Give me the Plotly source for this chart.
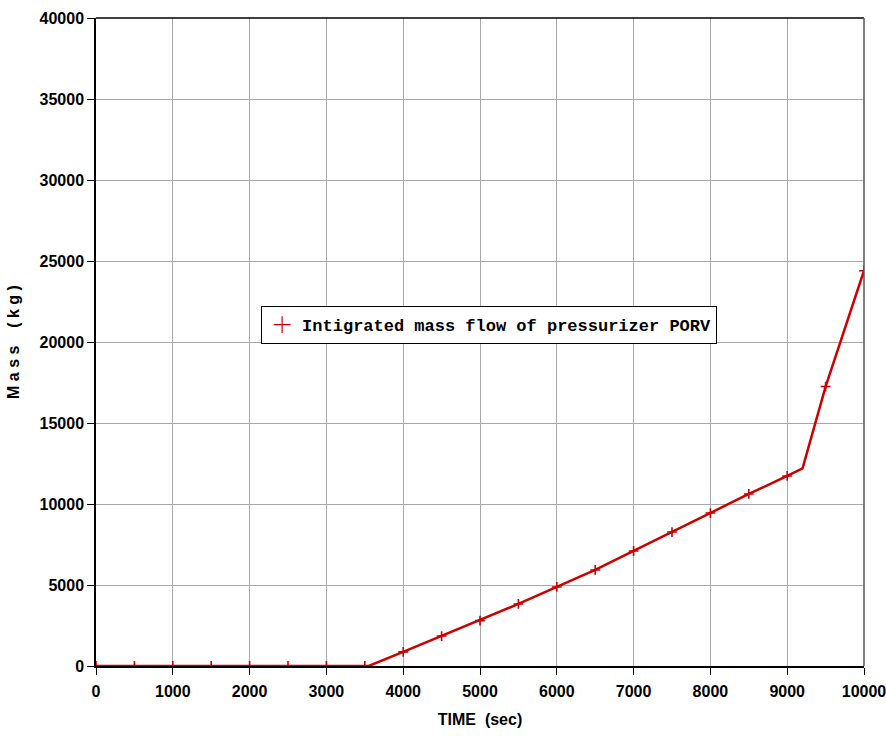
import plotly.graph_objects as go

# Integrated PORV mass flow (kg) versus time (s)
time_line = [0, 500, 1000, 1500, 2000, 2500, 3000, 3500, 3550, 4000, 4500, 5000,
             5500, 6000, 6500, 7000, 7500, 8000, 8500, 9000, 9200, 9500, 10000]
mass_line = [0, 0, 0, 0, 0, 0, 0, 0, 0, 870, 1850, 2800, 3830, 4880, 5930, 7100,
             8270, 9440, 10620, 11730, 12200, 17250, 24400]

# Marker samples every 500 s
time_mark = [0, 500, 1000, 1500, 2000, 2500, 3000, 3500, 4000, 4500, 5000, 5500,
             6000, 6500, 7000, 7500, 8000, 8500, 9000, 9500, 10000]
mass_mark = [0, 0, 0, 0, 0, 0, 0, 0, 870, 1850, 2800, 3830, 4880, 5930, 7100,
             8270, 9440, 10620, 11730, 17250, 24400]

x_ticks = list(range(0, 10001, 1000))
y_ticks = list(range(0, 40001, 5000))

RED = "#cc0000"
tick_font = dict(family="Liberation Sans Narrow, Arial Narrow, sans-serif",
                 size=16, color="black", weight="bold")

fig = go.Figure()
fig.add_trace(go.Scatter(x=time_line, y=mass_line, mode="lines",
                         line=dict(color=RED, width=2.5), showlegend=False,
                         hoverinfo="skip"))
fig.add_trace(go.Scatter(x=time_mark, y=mass_mark, mode="markers",
                         marker=dict(symbol="cross-thin", size=7, color=RED,
                                     line=dict(color=RED, width=1.6)),
                         name="Intigrated mass flow of pressurizer PORV",
                         showlegend=False))
# legend swatch uses a plus sign
fig.add_trace(go.Scatter(x=[None], y=[None], mode="markers",
                         marker=dict(symbol="cross-thin", size=12, color=RED,
                                     line=dict(color=RED, width=1.2)),
                         name="Intigrated mass flow of pressurizer PORV"))

fig.update_layout(
    width=886, height=736,
    margin=dict(l=96, r=22, t=18, b=70),
    paper_bgcolor="white", plot_bgcolor="white",
    legend=dict(x=0.215, y=0.526, xanchor="left", yanchor="middle",
                bgcolor="white", bordercolor="black", borderwidth=1,
                font=dict(family="Liberation Mono, Courier New, monospace",
                          size=17, color="black", weight="bold"),
                itemwidth=30),
    xaxis=dict(range=[0, 10000], tickvals=x_ticks, ticktext=[str(v) for v in x_ticks],
               showgrid=True, gridcolor="#a8a8a8", gridwidth=1, automargin=False,
               ticklabeloverflow="allow", ticklabelstandoff=3,
               showline=True, linecolor="black", linewidth=1.5, mirror=False,
               ticks="outside", ticklen=7, tickcolor="black", tickwidth=1.2,
               tickfont=tick_font, zeroline=False,
               title=dict(text="TIME  (sec)", font=tick_font, standoff=15)),
    yaxis=dict(range=[0, 40000], tickvals=y_ticks, ticktext=[str(v) for v in y_ticks],
               showgrid=True, gridcolor="#a8a8a8", gridwidth=1, automargin=False,
               ticklabeloverflow="allow",
               showline=True, linecolor="black", linewidth=1.5,
               ticks="outside", ticklen=7, tickcolor="black", tickwidth=1.2,
               tickfont=tick_font, zeroline=False,
               title=dict(text="M a s s    ( k g )", font=tick_font, standoff=16)),
)

# frame: black top edge, dark grey right edge
fig.add_shape(type="line", xref="paper", yref="paper", x0=0, x1=1, y0=1, y1=1,
              line=dict(color="black", width=1.5))
fig.add_shape(type="line", xref="paper", yref="paper", x0=1, x1=1, y0=0, y1=1,
              line=dict(color="#555555", width=1.5))

fig.write_html("out.html")
